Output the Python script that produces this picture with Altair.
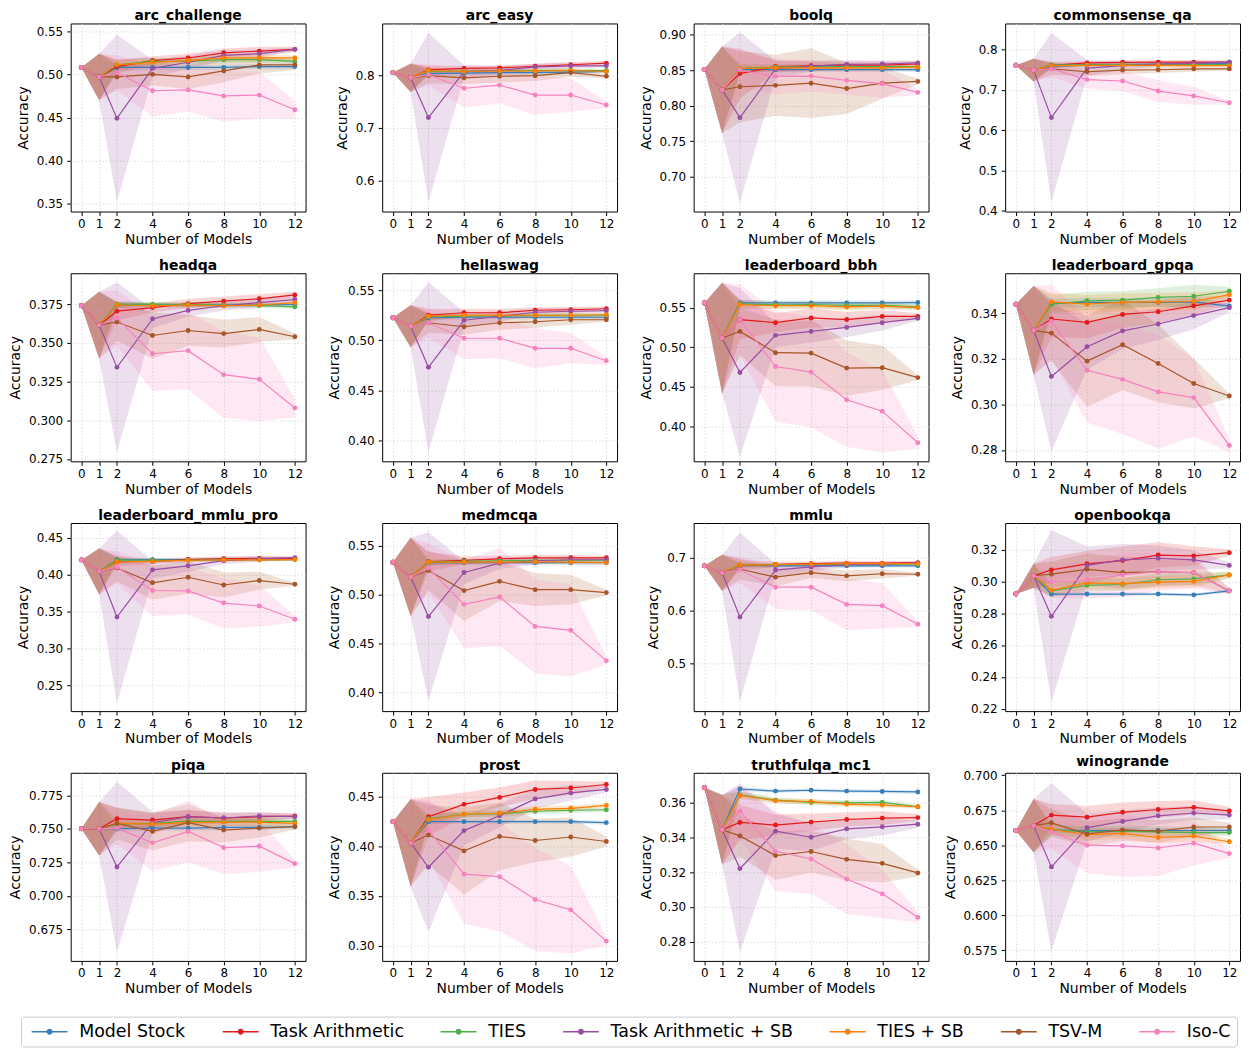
import altair as alt
import pandas as pd

X = [0, 1, 2, 4, 6, 8, 10, 12]
SERIES = ["Model Stock", "Task Arithmetic", "TIES", "Task Arithmetic + SB", "TIES + SB", "TSV-M", "Iso-C"]
COLORS = ["#377eb8", "#e41a1c", "#4daf4a", "#984ea3", "#ff7f00", "#a65628", "#f781bf"]

TASKS = ["arc_challenge", "arc_easy", "boolq", "commonsense_qa",
         "headqa", "hellaswag", "leaderboard_bbh", "leaderboard_gpqa",
         "leaderboard_mmlu_pro", "medmcqa", "mmlu", "openbookqa",
         "piqa", "prost", "truthfulqa_mc1", "winogrande"]

# ---- mean accuracy per method (rows follow SERIES, columns follow X) ----
arc_challenge_mean = [
    [0.508, 0.497, 0.508, 0.508, 0.508, 0.508, 0.509, 0.509],
    [0.508, 0.497, 0.509, 0.516, 0.519, 0.525, 0.527, 0.529],
    [0.508, 0.497, 0.511, 0.515, 0.515, 0.517, 0.517, 0.515],
    [0.508, 0.497, 0.449, 0.507, 0.514, 0.522, 0.524, 0.529],
    [0.508, 0.497, 0.511, 0.514, 0.516, 0.519, 0.519, 0.519],
    [0.508, 0.497, 0.497, 0.500, 0.497, 0.504, 0.511, 0.511],
    [0.508, 0.497, 0.502, 0.481, 0.482, 0.475, 0.476, 0.459]]
arc_challenge_spread = [
    [0, 0.027, 0.004, 0.003, 0.003, 0.003, 0.003, 0.003],
    [0, 0.027, 0.008, 0.005, 0.005, 0.005, 0.005, 0.003],
    [0, 0.027, 0.006, 0.004, 0.004, 0.004, 0.004, 0.003],
    [0, 0.027, 0.097, 0.010, 0.008, 0.006, 0.005, 0.002],
    [0, 0.027, 0.006, 0.004, 0.004, 0.004, 0.004, 0.003],
    [0, 0.027, 0.014, 0.013, 0.014, 0.013, 0.010, 0.006],
    [0, 0.027, 0.020, 0.030, 0.025, 0.030, 0.027, 0.010]]

arc_easy_mean = [
    [0.806, 0.796, 0.804, 0.805, 0.806, 0.806, 0.807, 0.808],
    [0.806, 0.796, 0.811, 0.814, 0.815, 0.818, 0.821, 0.824],
    [0.806, 0.796, 0.808, 0.809, 0.810, 0.810, 0.810, 0.810],
    [0.806, 0.796, 0.720, 0.808, 0.810, 0.817, 0.819, 0.819],
    [0.806, 0.796, 0.810, 0.808, 0.809, 0.809, 0.810, 0.808],
    [0.806, 0.796, 0.800, 0.796, 0.799, 0.800, 0.806, 0.799],
    [0.806, 0.796, 0.802, 0.776, 0.782, 0.763, 0.763, 0.744]]
arc_easy_spread = [
    [0, 0.027, 0.005, 0.004, 0.004, 0.004, 0.004, 0.003],
    [0, 0.027, 0.008, 0.005, 0.005, 0.005, 0.005, 0.004],
    [0, 0.027, 0.006, 0.004, 0.004, 0.004, 0.004, 0.003],
    [0, 0.027, 0.162, 0.012, 0.008, 0.006, 0.005, 0.003],
    [0, 0.027, 0.006, 0.004, 0.004, 0.004, 0.004, 0.003],
    [0, 0.027, 0.015, 0.012, 0.012, 0.010, 0.008, 0.004],
    [0, 0.027, 0.020, 0.037, 0.035, 0.038, 0.032, 0.006]]

boolq_mean = [
    [0.851, 0.822, 0.851, 0.8505, 0.8505, 0.8505, 0.8505, 0.8505],
    [0.851, 0.822, 0.845, 0.855, 0.856, 0.857, 0.857, 0.8585],
    [0.851, 0.822, 0.852, 0.854, 0.855, 0.855, 0.855, 0.855],
    [0.851, 0.822, 0.783, 0.8515, 0.8555, 0.858, 0.8585, 0.860],
    [0.851, 0.822, 0.852, 0.853, 0.853, 0.853, 0.853, 0.854],
    [0.851, 0.822, 0.8265, 0.8285, 0.8315, 0.824, 0.8315, 0.834],
    [0.851, 0.822, 0.850, 0.841, 0.8415, 0.8355, 0.831, 0.8185]]
boolq_spread = [
    [0, 0.061, 0.004, 0.003, 0.003, 0.003, 0.003, 0.003],
    [0, 0.061, 0.035, 0.008, 0.006, 0.005, 0.005, 0.004],
    [0, 0.061, 0.006, 0.004, 0.004, 0.004, 0.004, 0.003],
    [0, 0.061, 0.120, 0.012, 0.008, 0.006, 0.005, 0.003],
    [0, 0.061, 0.006, 0.004, 0.004, 0.004, 0.004, 0.003],
    [0, 0.061, 0.050, 0.043, 0.049, 0.036, 0.022, 0.004],
    [0, 0.061, 0.025, 0.025, 0.022, 0.020, 0.020, 0.004]]

commonsense_qa_mean = [
    [0.761, 0.749, 0.7585, 0.7625, 0.763, 0.764, 0.765, 0.765],
    [0.761, 0.749, 0.761, 0.767, 0.7685, 0.769, 0.769, 0.769],
    [0.761, 0.749, 0.762, 0.762, 0.763, 0.763, 0.763, 0.763],
    [0.761, 0.749, 0.631, 0.754, 0.760, 0.764, 0.766, 0.769],
    [0.761, 0.749, 0.760, 0.761, 0.761, 0.761, 0.760, 0.760],
    [0.761, 0.749, 0.752, 0.745, 0.749, 0.750, 0.752, 0.752],
    [0.761, 0.749, 0.752, 0.7255, 0.722, 0.697, 0.685, 0.668]]
commonsense_qa_spread = [
    [0, 0.028, 0.005, 0.004, 0.004, 0.004, 0.004, 0.003],
    [0, 0.028, 0.008, 0.005, 0.005, 0.005, 0.005, 0.004],
    [0, 0.028, 0.006, 0.004, 0.004, 0.004, 0.004, 0.003],
    [0, 0.028, 0.210, 0.020, 0.010, 0.006, 0.005, 0.003],
    [0, 0.028, 0.006, 0.004, 0.004, 0.004, 0.004, 0.003],
    [0, 0.028, 0.015, 0.010, 0.010, 0.008, 0.007, 0.004],
    [0, 0.028, 0.020, 0.022, 0.025, 0.027, 0.022, 0.005]]

headqa_mean = [
    [0.374, 0.3615, 0.3744, 0.3745, 0.3745, 0.3745, 0.3745, 0.3748],
    [0.374, 0.3615, 0.3705, 0.3728, 0.3754, 0.377, 0.3785, 0.381],
    [0.374, 0.3615, 0.375, 0.375, 0.3748, 0.3745, 0.3742, 0.3733],
    [0.374, 0.3615, 0.3342, 0.3655, 0.371, 0.374, 0.376, 0.378],
    [0.374, 0.3615, 0.3745, 0.374, 0.3745, 0.374, 0.3745, 0.376],
    [0.374, 0.3615, 0.3635, 0.3548, 0.358, 0.356, 0.3587, 0.354],
    [0.374, 0.3615, 0.366, 0.343, 0.345, 0.3295, 0.3265, 0.308]]
headqa_spread = [
    [0, 0.0215, 0.002, 0.0015, 0.0015, 0.0015, 0.0015, 0.0015],
    [0, 0.0215, 0.006, 0.003, 0.003, 0.003, 0.003, 0.002],
    [0, 0.0215, 0.002, 0.0015, 0.0015, 0.0015, 0.0015, 0.0015],
    [0, 0.0215, 0.055, 0.006, 0.004, 0.003, 0.003, 0.002],
    [0, 0.0215, 0.002, 0.0015, 0.0015, 0.0015, 0.0015, 0.0015],
    [0, 0.0215, 0.012, 0.015, 0.010, 0.009, 0.008, 0.002],
    [0, 0.0215, 0.018, 0.024, 0.025, 0.028, 0.027, 0.006]]

hellaswag_mean = [
    [0.5225, 0.514, 0.5225, 0.523, 0.523, 0.523, 0.523, 0.523],
    [0.5225, 0.514, 0.525, 0.5275, 0.5275, 0.530, 0.5305, 0.5315],
    [0.5225, 0.514, 0.5235, 0.524, 0.5245, 0.525, 0.525, 0.525],
    [0.5225, 0.514, 0.473, 0.520, 0.524, 0.528, 0.529, 0.5295],
    [0.5225, 0.514, 0.524, 0.525, 0.525, 0.525, 0.525, 0.5255],
    [0.5225, 0.514, 0.5175, 0.5135, 0.5175, 0.5185, 0.5205, 0.5205],
    [0.5225, 0.514, 0.5175, 0.502, 0.502, 0.492, 0.492, 0.4795]]
hellaswag_spread = [
    [0, 0.021, 0.003, 0.002, 0.002, 0.002, 0.002, 0.002],
    [0, 0.021, 0.006, 0.004, 0.004, 0.003, 0.003, 0.002],
    [0, 0.021, 0.003, 0.002, 0.002, 0.002, 0.002, 0.002],
    [0, 0.021, 0.085, 0.008, 0.005, 0.004, 0.003, 0.002],
    [0, 0.021, 0.003, 0.002, 0.002, 0.002, 0.002, 0.002],
    [0, 0.021, 0.010, 0.008, 0.007, 0.006, 0.005, 0.002],
    [0, 0.021, 0.015, 0.021, 0.020, 0.020, 0.015, 0.004]]

leaderboard_bbh_mean = [
    [0.556, 0.5115, 0.556, 0.556, 0.556, 0.556, 0.556, 0.5565],
    [0.556, 0.5115, 0.535, 0.531, 0.537, 0.535, 0.539, 0.539],
    [0.556, 0.5115, 0.555, 0.5535, 0.554, 0.553, 0.553, 0.551],
    [0.556, 0.5115, 0.468, 0.515, 0.520, 0.525, 0.531, 0.5365],
    [0.556, 0.5115, 0.554, 0.5525, 0.5525, 0.551, 0.552, 0.550],
    [0.556, 0.5115, 0.520, 0.493, 0.4925, 0.4735, 0.474, 0.4615],
    [0.556, 0.5115, 0.535, 0.4755, 0.4685, 0.4335, 0.419, 0.379]]
leaderboard_bbh_spread = [
    [0, 0.070, 0.004, 0.003, 0.003, 0.003, 0.003, 0.003],
    [0, 0.070, 0.025, 0.012, 0.012, 0.010, 0.008, 0.004],
    [0, 0.070, 0.005, 0.004, 0.004, 0.004, 0.004, 0.003],
    [0, 0.070, 0.107, 0.015, 0.014, 0.012, 0.010, 0.003],
    [0, 0.070, 0.005, 0.004, 0.004, 0.004, 0.004, 0.003],
    [0, 0.070, 0.030, 0.042, 0.042, 0.035, 0.028, 0.003],
    [0, 0.070, 0.045, 0.070, 0.070, 0.060, 0.052, 0.008]]

leaderboard_gpqa_mean = [
    [0.344, 0.3325, 0.3445, 0.3448, 0.3448, 0.3448, 0.345, 0.3432],
    [0.344, 0.3325, 0.3375, 0.336, 0.3395, 0.3407, 0.3433, 0.3458],
    [0.344, 0.3325, 0.344, 0.3455, 0.3458, 0.347, 0.3475, 0.3497],
    [0.344, 0.3325, 0.3123, 0.3253, 0.3323, 0.3353, 0.339, 0.3425],
    [0.344, 0.3325, 0.345, 0.344, 0.3448, 0.345, 0.3452, 0.3482],
    [0.344, 0.3325, 0.3313, 0.319, 0.3262, 0.318, 0.3092, 0.3037],
    [0.344, 0.3325, 0.3365, 0.315, 0.311, 0.3055, 0.303, 0.282]]
leaderboard_gpqa_spread = [
    [0, 0.0195, 0.002, 0.002, 0.002, 0.002, 0.002, 0.001],
    [0, 0.0195, 0.008, 0.007, 0.006, 0.005, 0.004, 0.002],
    [0, 0.0195, 0.004, 0.004, 0.004, 0.004, 0.005, 0.002],
    [0, 0.0195, 0.033, 0.010, 0.008, 0.007, 0.006, 0.002],
    [0, 0.0195, 0.004, 0.004, 0.004, 0.004, 0.004, 0.002],
    [0, 0.0195, 0.012, 0.020, 0.020, 0.017, 0.011, 0.001],
    [0, 0.0195, 0.016, 0.023, 0.024, 0.025, 0.017, 0.003]]

leaderboard_mmlu_pro_mean = [
    [0.420, 0.4045, 0.4205, 0.4205, 0.4205, 0.421, 0.421, 0.4215],
    [0.420, 0.4045, 0.4175, 0.418, 0.4205, 0.4215, 0.422, 0.422],
    [0.420, 0.4045, 0.420, 0.4195, 0.4195, 0.420, 0.4205, 0.4205],
    [0.420, 0.4045, 0.3425, 0.4065, 0.412, 0.419, 0.4215, 0.423],
    [0.420, 0.4045, 0.4175, 0.418, 0.4195, 0.420, 0.420, 0.4205],
    [0.420, 0.4045, 0.409, 0.389, 0.3965, 0.386, 0.392, 0.387],
    [0.420, 0.4045, 0.410, 0.3785, 0.378, 0.3615, 0.3575, 0.3395]]
leaderboard_mmlu_pro_spread = [
    [0, 0.031, 0.003, 0.002, 0.002, 0.002, 0.002, 0.002],
    [0, 0.031, 0.006, 0.004, 0.003, 0.003, 0.003, 0.002],
    [0, 0.031, 0.003, 0.002, 0.002, 0.002, 0.002, 0.002],
    [0, 0.031, 0.117, 0.012, 0.008, 0.005, 0.004, 0.002],
    [0, 0.031, 0.003, 0.002, 0.002, 0.002, 0.002, 0.002],
    [0, 0.031, 0.018, 0.023, 0.022, 0.017, 0.012, 0.002],
    [0, 0.031, 0.022, 0.035, 0.032, 0.034, 0.028, 0.004]]

medmcqa_mean = [
    [0.533, 0.518, 0.5325, 0.5325, 0.5325, 0.5325, 0.5325, 0.5325],
    [0.533, 0.518, 0.5335, 0.535, 0.5365, 0.5375, 0.5375, 0.5375],
    [0.533, 0.518, 0.533, 0.534, 0.5345, 0.535, 0.535, 0.535],
    [0.533, 0.518, 0.4775, 0.5225, 0.532, 0.5345, 0.5355, 0.5355],
    [0.533, 0.518, 0.533, 0.533, 0.533, 0.5335, 0.533, 0.5325],
    [0.533, 0.518, 0.5245, 0.504, 0.5135, 0.505, 0.505, 0.502],
    [0.533, 0.518, 0.527, 0.490, 0.4975, 0.4675, 0.4635, 0.4325]]
medmcqa_spread = [
    [0, 0.040, 0.003, 0.002, 0.002, 0.002, 0.002, 0.002],
    [0, 0.040, 0.010, 0.004, 0.003, 0.003, 0.003, 0.002],
    [0, 0.040, 0.003, 0.002, 0.002, 0.002, 0.002, 0.002],
    [0, 0.040, 0.086, 0.012, 0.006, 0.004, 0.003, 0.002],
    [0, 0.040, 0.003, 0.002, 0.002, 0.002, 0.002, 0.002],
    [0, 0.040, 0.020, 0.031, 0.020, 0.017, 0.015, 0.003],
    [0, 0.040, 0.025, 0.045, 0.050, 0.048, 0.047, 0.004]]

mmlu_mean = [
    [0.684, 0.671, 0.6845, 0.684, 0.684, 0.684, 0.684, 0.684],
    [0.684, 0.671, 0.685, 0.6865, 0.688, 0.689, 0.689, 0.690],
    [0.684, 0.671, 0.6855, 0.6865, 0.6865, 0.6865, 0.687, 0.6875],
    [0.684, 0.671, 0.587, 0.676, 0.682, 0.686, 0.687, 0.6895],
    [0.684, 0.671, 0.6855, 0.686, 0.687, 0.688, 0.688, 0.688],
    [0.684, 0.671, 0.678, 0.6625, 0.671, 0.665, 0.669, 0.668],
    [0.684, 0.671, 0.6765, 0.6435, 0.6435, 0.611, 0.6085, 0.5735]]
mmlu_spread = [
    [0, 0.034, 0.004, 0.003, 0.003, 0.003, 0.003, 0.003],
    [0, 0.034, 0.010, 0.005, 0.004, 0.004, 0.004, 0.003],
    [0, 0.034, 0.004, 0.003, 0.003, 0.003, 0.003, 0.003],
    [0, 0.034, 0.160, 0.012, 0.008, 0.005, 0.004, 0.003],
    [0, 0.034, 0.004, 0.003, 0.003, 0.003, 0.003, 0.003],
    [0, 0.034, 0.020, 0.017, 0.010, 0.010, 0.009, 0.003],
    [0, 0.034, 0.025, 0.042, 0.043, 0.049, 0.043, 0.005]]

openbookqa_mean = [
    [0.292, 0.3035, 0.292, 0.292, 0.292, 0.292, 0.2915, 0.294],
    [0.292, 0.3035, 0.3072, 0.311, 0.313, 0.3165, 0.316, 0.318],
    [0.292, 0.3035, 0.294, 0.2975, 0.298, 0.301, 0.3015, 0.304],
    [0.292, 0.3035, 0.278, 0.310, 0.3135, 0.3145, 0.3135, 0.310],
    [0.292, 0.3035, 0.2945, 0.299, 0.2985, 0.2995, 0.300, 0.304],
    [0.292, 0.3035, 0.3045, 0.3075, 0.3055, 0.306, 0.3055, 0.294],
    [0.292, 0.3035, 0.2995, 0.301, 0.304, 0.306, 0.3055, 0.294]]
openbookqa_spread = [
    [0, 0.0075, 0.001, 0.001, 0.001, 0.001, 0.001, 0.001],
    [0, 0.0075, 0.008, 0.008, 0.009, 0.008, 0.006, 0.002],
    [0, 0.0075, 0.004, 0.004, 0.004, 0.004, 0.004, 0.002],
    [0, 0.0075, 0.054, 0.012, 0.010, 0.008, 0.006, 0.002],
    [0, 0.0075, 0.004, 0.004, 0.004, 0.004, 0.004, 0.002],
    [0, 0.0075, 0.008, 0.010, 0.010, 0.009, 0.008, 0.002],
    [0, 0.0075, 0.010, 0.012, 0.014, 0.012, 0.010, 0.002]]

piqa_mean = [
    [0.750, 0.750, 0.750, 0.7505, 0.7505, 0.751, 0.751, 0.7515],
    [0.750, 0.750, 0.7575, 0.7565, 0.759, 0.758, 0.759, 0.7595],
    [0.750, 0.750, 0.7535, 0.754, 0.7555, 0.7555, 0.7555, 0.7555],
    [0.750, 0.750, 0.7215, 0.7545, 0.759, 0.758, 0.7595, 0.759],
    [0.750, 0.750, 0.754, 0.7535, 0.7545, 0.755, 0.755, 0.754],
    [0.750, 0.750, 0.754, 0.748, 0.7545, 0.749, 0.7505, 0.7515],
    [0.750, 0.750, 0.7505, 0.7395, 0.748, 0.736, 0.737, 0.724]]
piqa_spread = [
    [0, 0.020, 0.002, 0.002, 0.002, 0.002, 0.002, 0.001],
    [0, 0.020, 0.008, 0.005, 0.005, 0.004, 0.003, 0.002],
    [0, 0.020, 0.003, 0.003, 0.003, 0.003, 0.003, 0.002],
    [0, 0.020, 0.0635, 0.008, 0.005, 0.004, 0.003, 0.002],
    [0, 0.020, 0.003, 0.003, 0.003, 0.003, 0.003, 0.002],
    [0, 0.020, 0.012, 0.014, 0.014, 0.009, 0.007, 0.002],
    [0, 0.020, 0.012, 0.021, 0.023, 0.020, 0.019, 0.003]]

prost_mean = [
    [0.425, 0.4035, 0.425, 0.425, 0.425, 0.425, 0.425, 0.424],
    [0.425, 0.4035, 0.430, 0.4425, 0.4495, 0.4575, 0.459, 0.4625],
    [0.425, 0.4035, 0.428, 0.4325, 0.433, 0.4355, 0.4365, 0.437],
    [0.425, 0.4035, 0.379, 0.416, 0.431, 0.448, 0.454, 0.4575],
    [0.425, 0.4035, 0.427, 0.4325, 0.4335, 0.4375, 0.4385, 0.4415],
    [0.425, 0.4035, 0.4115, 0.3955, 0.410, 0.406, 0.4095, 0.405],
    [0.425, 0.4035, 0.4165, 0.372, 0.3695, 0.3465, 0.336, 0.3045]]
prost_spread = [
    [0, 0.044, 0.002, 0.002, 0.002, 0.002, 0.002, 0.002],
    [0, 0.044, 0.020, 0.012, 0.010, 0.009, 0.007, 0.003],
    [0, 0.044, 0.004, 0.003, 0.003, 0.003, 0.003, 0.002],
    [0, 0.044, 0.065, 0.015, 0.012, 0.010, 0.008, 0.003],
    [0, 0.044, 0.004, 0.003, 0.003, 0.003, 0.003, 0.002],
    [0, 0.044, 0.030, 0.044, 0.034, 0.022, 0.020, 0.005],
    [0, 0.044, 0.030, 0.050, 0.055, 0.052, 0.044, 0.004]]

truthfulqa_mc1_mean = [
    [0.3685, 0.3443, 0.3677, 0.3665, 0.367, 0.3665, 0.3663, 0.366],
    [0.3685, 0.3443, 0.3485, 0.347, 0.3487, 0.3502, 0.351, 0.3513],
    [0.3685, 0.3443, 0.3643, 0.3613, 0.360, 0.3597, 0.360, 0.3575],
    [0.3685, 0.3443, 0.322, 0.3435, 0.340, 0.3448, 0.346, 0.3475],
    [0.3685, 0.3443, 0.364, 0.361, 0.3605, 0.359, 0.3585, 0.3575],
    [0.3685, 0.3443, 0.3408, 0.3295, 0.3318, 0.3273, 0.325, 0.3195],
    [0.3685, 0.3443, 0.355, 0.332, 0.3275, 0.316, 0.3075, 0.294]]
truthfulqa_mc1_spread = [
    [0, 0.020, 0.001, 0.001, 0.001, 0.001, 0.001, 0.001],
    [0, 0.020, 0.010, 0.006, 0.005, 0.004, 0.004, 0.002],
    [0, 0.020, 0.002, 0.0015, 0.0015, 0.0015, 0.0015, 0.001],
    [0, 0.020, 0.048, 0.010, 0.008, 0.006, 0.005, 0.002],
    [0, 0.020, 0.002, 0.0015, 0.0015, 0.0015, 0.0015, 0.001],
    [0, 0.020, 0.012, 0.014, 0.012, 0.012, 0.011, 0.002],
    [0, 0.020, 0.016, 0.023, 0.020, 0.020, 0.014, 0.003]]

winogrande_mean = [
    [0.6605, 0.664, 0.661, 0.6605, 0.6605, 0.6605, 0.6605, 0.6605],
    [0.6605, 0.664, 0.6715, 0.670, 0.6735, 0.6755, 0.677, 0.6745],
    [0.6605, 0.664, 0.661, 0.6595, 0.660, 0.6595, 0.659, 0.659],
    [0.6605, 0.664, 0.6345, 0.6625, 0.667, 0.671, 0.673, 0.6715],
    [0.6605, 0.664, 0.6615, 0.6575, 0.6585, 0.6555, 0.6565, 0.6525],
    [0.6605, 0.664, 0.666, 0.658, 0.661, 0.660, 0.663, 0.663],
    [0.6605, 0.664, 0.6595, 0.650, 0.6495, 0.648, 0.6515, 0.644]]
winogrande_spread = [
    [0, 0.019, 0.002, 0.002, 0.002, 0.002, 0.002, 0.002],
    [0, 0.019, 0.008, 0.008, 0.007, 0.006, 0.005, 0.003],
    [0, 0.019, 0.004, 0.004, 0.004, 0.004, 0.004, 0.002],
    [0, 0.019, 0.060, 0.010, 0.008, 0.006, 0.005, 0.003],
    [0, 0.019, 0.004, 0.004, 0.004, 0.004, 0.004, 0.002],
    [0, 0.019, 0.010, 0.009, 0.008, 0.008, 0.007, 0.003],
    [0, 0.019, 0.012, 0.020, 0.022, 0.020, 0.016, 0.003]]

# ---- y axis settings per panel ----
Y_DOMAINS = {
    "arc_challenge": [0.341, 0.559], "arc_easy": [0.54, 0.90],
    "boolq": [0.651, 0.9155], "commonsense_qa": [0.3975, 0.865],
    "headqa": [0.2735, 0.395], "hellaswag": [0.379, 0.567],
    "leaderboard_bbh": [0.3555, 0.5936], "leaderboard_gpqa": [0.275, 0.3576],
    "leaderboard_mmlu_pro": [0.215, 0.47], "medmcqa": [0.381, 0.573],
    "mmlu": [0.409, 0.765], "openbookqa": [0.2185, 0.3366],
    "piqa": [0.6515, 0.7917], "prost": [0.2845, 0.4743],
    "truthfulqa_mc1": [0.269, 0.377], "winogrande": [0.5674, 0.7017]}
Y_TICKS = {
    "arc_challenge": [0.35, 0.40, 0.45, 0.50, 0.55], "arc_easy": [0.6, 0.7, 0.8],
    "boolq": [0.70, 0.75, 0.80, 0.85, 0.90], "commonsense_qa": [0.4, 0.5, 0.6, 0.7, 0.8],
    "headqa": [0.275, 0.300, 0.325, 0.350, 0.375], "hellaswag": [0.40, 0.45, 0.50, 0.55],
    "leaderboard_bbh": [0.40, 0.45, 0.50, 0.55], "leaderboard_gpqa": [0.28, 0.30, 0.32, 0.34],
    "leaderboard_mmlu_pro": [0.25, 0.30, 0.35, 0.40, 0.45], "medmcqa": [0.40, 0.45, 0.50, 0.55],
    "mmlu": [0.5, 0.6, 0.7], "openbookqa": [0.22, 0.24, 0.26, 0.28, 0.30, 0.32],
    "piqa": [0.675, 0.700, 0.725, 0.750, 0.775], "prost": [0.30, 0.35, 0.40, 0.45],
    "truthfulqa_mc1": [0.28, 0.30, 0.32, 0.34, 0.36],
    "winogrande": [0.575, 0.600, 0.625, 0.650, 0.675, 0.700]}
Y_FORMATS = {
    "arc_challenge": ".2f", "arc_easy": ".1f", "boolq": ".2f", "commonsense_qa": ".1f",
    "headqa": ".3f", "hellaswag": ".2f", "leaderboard_bbh": ".2f", "leaderboard_gpqa": ".2f",
    "leaderboard_mmlu_pro": ".2f", "medmcqa": ".2f", "mmlu": ".1f", "openbookqa": ".2f",
    "piqa": ".3f", "prost": ".2f", "truthfulqa_mc1": ".2f", "winogrande": ".3f"}

DATA = {
    "arc_challenge": (arc_challenge_mean, arc_challenge_spread),
    "arc_easy": (arc_easy_mean, arc_easy_spread),
    "boolq": (boolq_mean, boolq_spread),
    "commonsense_qa": (commonsense_qa_mean, commonsense_qa_spread),
    "headqa": (headqa_mean, headqa_spread),
    "hellaswag": (hellaswag_mean, hellaswag_spread),
    "leaderboard_bbh": (leaderboard_bbh_mean, leaderboard_bbh_spread),
    "leaderboard_gpqa": (leaderboard_gpqa_mean, leaderboard_gpqa_spread),
    "leaderboard_mmlu_pro": (leaderboard_mmlu_pro_mean, leaderboard_mmlu_pro_spread),
    "medmcqa": (medmcqa_mean, medmcqa_spread),
    "mmlu": (mmlu_mean, mmlu_spread),
    "openbookqa": (openbookqa_mean, openbookqa_spread),
    "piqa": (piqa_mean, piqa_spread),
    "prost": (prost_mean, prost_spread),
    "truthfulqa_mc1": (truthfulqa_mc1_mean, truthfulqa_mc1_spread),
    "winogrande": (winogrande_mean, winogrande_spread)}

FONT = "DejaVu Sans"
PANEL_W, PANEL_H = 236, 189

# legend symbol: a short line with a dot in the middle
LEGEND_SYMBOL = ("M-1,-0.19L8,-0.19L8,0.19L-1,0.19Z "
                 "M4.25,0A0.75,0.75,0,1,1,2.75,0A0.75,0.75,0,1,1,4.25,0Z")

LEGEND = alt.Legend(
    orient="none", legendX=-50, legendY=998, direction="horizontal", title=None,
    symbolType=LEGEND_SYMBOL, symbolSize=64, symbolStrokeWidth=0,
    labelFont=FONT, labelFontSize=17.5, labelColor="black", labelLimit=400,
    labelOffset=35, columnPadding=32, padding=6,
    strokeColor="#cccccc", fillColor="white", cornerRadius=3)


def make_panel(task):
    mean, spread = DATA[task]
    rows = []
    for si, s in enumerate(SERIES):
        for xi, xv in enumerate(X):
            m = mean[si][xi]
            sp = spread[si][xi]
            rows.append({"Method": s, "k": si, "n": xv, "acc": m,
                         "lo": m - sp, "hi": m + sp})
    df = pd.DataFrame(rows)

    xs = alt.Scale(domain=[-0.6, 12.6], nice=False, zero=False)
    ys = alt.Scale(domain=Y_DOMAINS[task], nice=False, zero=False)
    xax = alt.Axis(values=X, format="d", title="Number of Models", grid=True,
                   labelOverlap=False, labelFlush=False, labelAngle=0,
                   labelPadding=3, titlePadding=3)
    yax = alt.Axis(values=Y_TICKS[task], format=Y_FORMATS[task], title="Accuracy",
                   grid=True, labelOverlap=False, labelFlush=False,
                   labelPadding=4, titlePadding=6)
    # bands and lines: colour by method index (no legend)
    ks = alt.Scale(range=COLORS)
    # points: colour by method name (carries the legend)
    cs = alt.Scale(domain=SERIES, range=COLORS)

    base = alt.Chart(df)
    band = base.mark_area(opacity=0.18, clip=True).encode(
        x=alt.X("n:Q", scale=xs, axis=xax),
        y=alt.Y("lo:Q", scale=ys, axis=yax, stack=None),
        y2="hi:Q",
        fill=alt.Fill("k:O", scale=ks, legend=None),
        order=alt.Order("k:Q"))
    line = base.mark_line(strokeWidth=1.2, clip=True).encode(
        x=alt.X("n:Q", scale=xs, axis=xax),
        y=alt.Y("acc:Q", scale=ys, axis=yax),
        stroke=alt.Stroke("k:O", scale=ks, legend=None),
        order=alt.Order("n:Q"))
    pts = base.mark_circle(size=24, opacity=1, clip=True).encode(
        x=alt.X("n:Q", scale=xs, axis=xax),
        y=alt.Y("acc:Q", scale=ys, axis=yax),
        color=alt.Color("Method:N", scale=cs, legend=LEGEND),
        order=alt.Order("k:Q"))
    return alt.layer(band, line, pts).properties(
        width=PANEL_W, height=PANEL_H,
        title=alt.TitleParams(task, font=FONT, fontSize=14, fontWeight="bold",
                              color="black", offset=0, anchor="middle"))


panels = [make_panel(t) for t in TASKS]

chart = alt.concat(*panels, columns=4, align="all",
                   spacing={"row": 7, "column": 13}).properties(
    padding={"left": 0, "top": -2, "right": 0, "bottom": 0}
).configure(font=FONT).configure_view(
    stroke="black", strokeWidth=1, fill="white"
).configure_axis(
    labelFont=FONT, labelFontSize=12, labelColor="black",
    titleFont=FONT, titleFontSize=14, titleFontWeight="normal", titleColor="black",
    domain=False, ticks=True, tickColor="black", tickSize=4, tickWidth=1,
    gridColor="#d4d4d4", gridDash=[1.5, 2], gridWidth=0.8
)

chart.save("out.html", embed_options={"renderer": "svg", "actions": False})
